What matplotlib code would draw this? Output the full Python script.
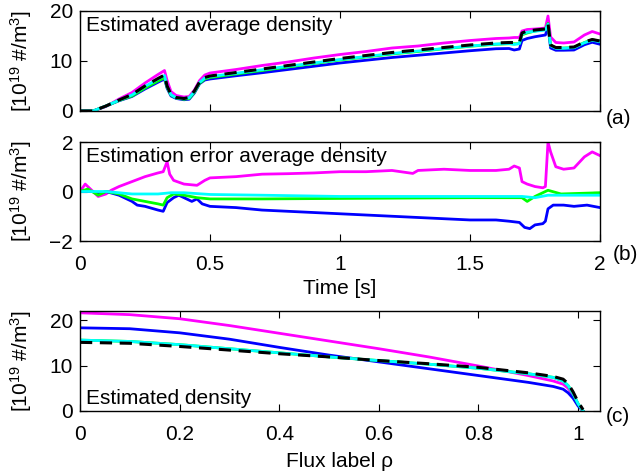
import matplotlib
matplotlib.use("Agg")
import matplotlib.pyplot as plt
import numpy as np

plt.rcParams['font.family'] = ['Liberation Sans', 'DejaVu Sans']
plt.rcParams['mathtext.fontset'] = 'custom'
plt.rcParams['mathtext.rm'] = 'Liberation Sans'
plt.rcParams['mathtext.it'] = 'Liberation Sans:italic'
FS = 15
plt.rcParams['font.size'] = FS

# ---- Panel (a): estimated average density vs time ----
t_a = [0, 0.05, 0.1, 0.15, 0.2, 0.25, 0.3, 0.325, 0.335, 0.35, 0.37, 0.4, 0.42, 0.44,
       0.46, 0.48, 0.5, 0.6, 0.7, 0.8, 0.9, 1.0, 1.1, 1.2, 1.3, 1.4, 1.5, 1.6, 1.65,
       1.67, 1.69, 1.70, 1.72, 1.75, 1.79, 1.80, 1.81, 1.83, 1.86, 1.9, 1.94, 1.97, 2.0]
true_a = [0, 0, 1.0, 2.2, 3.3, 5.0, 6.5, 7.2, 5.0, 3.3, 2.7, 2.5, 2.7, 4.0, 5.8, 6.7,
          7.0, 7.7, 8.4, 9.1, 9.8, 10.5, 11.1, 11.7, 12.2, 12.7, 13.2, 13.6, 13.7, 13.7,
          13.7, 15.6, 16.0, 16.2, 16.4, 17.5, 13.2, 12.7, 12.7, 12.8, 13.8, 14.3, 14.0]
magenta_a = [0, 0, 0.9, 2.4, 3.7, 5.6, 7.3, 8.1, 6.1, 3.9, 3.1, 2.8, 2.9, 4.2, 6.1, 7.2,
             7.6, 8.3, 9.1, 9.8, 10.6, 11.3, 11.9, 12.6, 13.0, 13.6, 14.1, 14.5, 14.6, 14.7,
             14.7, 16.0, 16.3, 16.4, 16.6, 19.0, 14.8, 13.7, 13.6, 13.8, 15.2, 15.9, 15.4]
blue_a = [0, 0, 1.0, 2.05, 2.9, 4.4, 5.75, 6.4, 4.55, 3.0, 2.5, 2.25, 2.35, 3.6, 5.45, 6.2,
          6.4, 7.05, 7.65, 8.3, 8.95, 9.6, 10.15, 10.7, 11.15, 11.6, 12.05, 12.45, 12.5, 12.2,
          12.4, 14.1, 14.5, 14.85, 15.2, 16.8, 12.6, 12.15, 12.15, 12.2, 13.25, 13.75, 13.35]
green_a = [0, 0, 1.0, 2.1, 3.0, 4.6, 6.0, 6.65, 4.75, 3.2, 2.6, 2.35, 2.5, 3.75, 5.55, 6.4,
           6.7, 7.4, 8.1, 8.8, 9.5, 10.2, 10.8, 11.4, 11.9, 12.45, 12.95, 13.35, 13.45, 13.45,
           13.45, 15.25, 15.6, 16.0, 16.35, 17.5, 13.15, 12.6, 12.6, 12.7, 13.7, 14.25, 13.95]
cyan_a = [0, 0, 1.0, 2.15, 3.2, 4.9, 6.4, 7.1, 4.95, 3.25, 2.65, 2.45, 2.65, 3.9, 5.7, 6.6,
          6.9, 7.55, 8.25, 8.95, 9.6, 10.3, 10.9, 11.5, 12.0, 12.5, 13.0, 13.4, 13.5, 13.3,
          13.5, 15.4, 15.75, 15.95, 16.2, 17.35, 13.05, 12.55, 12.55, 12.65, 13.65, 14.15, 13.85]

# ---- Panel (b): estimation error ----
t_m = [0, 0.02, 0.05, 0.07, 0.1, 0.12, 0.15, 0.2, 0.25, 0.3, 0.32, 0.335, 0.345, 0.36,
       0.4, 0.45, 0.48, 0.5, 0.6, 0.7, 0.8, 0.9, 1.0, 1.1, 1.2, 1.28, 1.3, 1.4, 1.5, 1.6,
       1.65, 1.67, 1.69, 1.70, 1.72, 1.75, 1.78, 1.79, 1.80, 1.81, 1.83, 1.86, 1.9, 1.94,
       1.97, 1.99, 2.0]
err_m = [0, 0.3, 0.0, -0.2, -0.1, 0.05, 0.2, 0.4, 0.6, 0.75, 0.8, 1.2, 0.7, 0.45,
         0.3, 0.25, 0.45, 0.55, 0.6, 0.7, 0.72, 0.75, 0.8, 0.8, 0.85, 0.73, 0.85, 0.9, 0.85,
         0.85, 0.9, 1.03, 0.95, 0.4, 0.3, 0.2, 0.15, 0.2, 2.0, 1.6, 1.0, 0.9, 0.95, 1.4,
         1.6, 1.5, 1.45]
t_bl = [0, 0.05, 0.07, 0.1, 0.15, 0.2, 0.22, 0.25, 0.3, 0.32, 0.335, 0.36, 0.38, 0.4,
        0.43, 0.45, 0.47, 0.5, 0.6, 0.7, 0.8, 0.9, 1.0, 1.1, 1.2, 1.3, 1.4, 1.5, 1.6,
        1.65, 1.69, 1.71, 1.73, 1.75, 1.78, 1.79, 1.80, 1.82, 1.86, 1.9, 1.95, 2.0]
err_bl = [0, 0, -0.1, 0, -0.15, -0.4, -0.55, -0.6, -0.75, -0.8, -0.45, -0.25, -0.15,
          -0.25, -0.4, -0.3, -0.5, -0.6, -0.65, -0.75, -0.8, -0.85, -0.9, -0.95, -1.0,
          -1.05, -1.1, -1.15, -1.15, -1.2, -1.25, -1.45, -1.5, -1.35, -1.3, -1.2, -0.7,
          -0.55, -0.55, -0.6, -0.55, -0.65]
t_g = [0, 0.03, 0.07, 0.1, 0.15, 0.2, 0.25, 0.3, 0.32, 0.335, 0.36, 0.4, 0.45, 0.5,
       0.7, 1.0, 1.5, 1.7, 1.72, 1.75, 1.8, 1.85, 2.0]
err_g = [0, 0.1, -0.15, 0, -0.1, -0.3, -0.4, -0.5, -0.55, -0.25, -0.1, -0.15, -0.25,
         -0.3, -0.3, -0.28, -0.25, -0.25, -0.4, -0.2, 0.05, -0.1, -0.05]
t_c = [0, 0.1, 0.2, 0.3, 0.35, 0.4, 0.5, 0.7, 1.0, 1.5, 1.7, 1.75, 1.8, 2.0]
err_c = [0, 0, -0.1, -0.1, -0.05, -0.05, -0.12, -0.15, -0.2, -0.2, -0.2, -0.25,
         -0.15, -0.15]

# ---- Panel (c): estimated density profile ----
rho = [0, 0.1, 0.2, 0.3, 0.4, 0.5, 0.6, 0.7, 0.8, 0.9, 0.95, 0.97, 0.98, 0.99, 1.0, 1.01]
true_c = [15.1, 14.9, 14.2, 13.4, 12.6, 11.9, 11.1, 10.4, 9.6, 8.4, 7.6, 7.0, 6.0, 4.2, 2.0, 0.3]
magenta_c = [21.6, 21.2, 20.3, 18.8, 17.1, 15.4, 13.7, 11.9, 9.9, 7.8, 6.6, 5.9, 5.0, 3.5, 1.5, 0.0]
blue_c = [18.3, 18.1, 17.2, 15.8, 14.0, 12.3, 10.8, 9.3, 7.8, 6.3, 5.4, 4.8, 4.0, 2.8, 1.1, 0.0]
green_c = [15.6, 15.3, 14.6, 13.7, 12.8, 11.9, 11.1, 10.3, 9.4, 8.2, 7.4, 6.6, 5.6, 3.8, 1.6, 0.0]
cyan_c = [15.6, 15.3, 14.6, 13.7, 12.8, 11.9, 11.1, 10.3, 9.4, 8.2, 7.4, 6.6, 5.6, 3.8, 1.6, 0.0]

MAG, BLU, GRN, CYN = '#FF00FF', '#0000FF', '#00FF00', '#00FFFF'
ylab = r'[10$^{19}$ #/m$^3$]'

fig = plt.figure(figsize=(6.44, 4.76), dpi=100)
W, H = 644, 476
def add_ax(left, top, right, bottom):
    return fig.add_axes([left / W, 1 - bottom / H, (right - left) / W, (bottom - top) / H])

L, R = 80, 600
ax1 = add_ax(L, 11, R, 111)
ax2 = add_ax(L, 142, R, 241)
ax3 = add_ax(L, 311, R, 411)

def style(ax):
    ax.tick_params(direction='in', top=True, right=True, length=5, width=0.8, labelsize=FS, pad=5)
    ax.tick_params(axis='x', pad=10)
    for s in ax.spines.values():
        s.set_linewidth(1.0)
    ax.set_ylabel(ylab, fontsize=FS)
    ax.yaxis.set_label_coords(-0.088, 0.5)

lw = 2.0
ax1.plot(t_a, magenta_a, color=MAG, lw=lw)
ax1.plot(t_a, blue_a, color=BLU, lw=lw)
ax1.plot(t_a, green_a, color=GRN, lw=lw)
ax1.plot(t_a, cyan_a, color=CYN, lw=lw)
ax1.plot(t_a, true_a, color='black', lw=2.2, ls=(0, (4, 2.5)))
ax1.set_xlim(0, 2)
ax1.set_ylim(0, 20)
ax1.set_yticks([0, 10, 20])
ax1.set_xticks([0, 0.5, 1, 1.5, 2])
ax1.set_xticklabels([])
ax1.text(0.012, 0.95, 'Estimated average density', transform=ax1.transAxes, va='top', ha='left', fontsize=FS)
ax1.text(1.012, -0.07, '(a)', transform=ax1.transAxes, va='center', ha='left', fontsize=FS)
style(ax1)

ax2.plot(t_m, err_m, color=MAG, lw=lw)
ax2.plot(t_bl, err_bl, color=BLU, lw=lw)
ax2.plot(t_g, err_g, color=GRN, lw=lw)
ax2.plot(t_c, err_c, color=CYN, lw=lw)
ax2.set_xlim(0, 2)
ax2.set_ylim(-2, 2)
ax2.set_yticks([-2, 0, 2])
ax2.set_xticks([0, 0.5, 1, 1.5, 2])
ax2.set_xticklabels(['0', '0.5', '1', '1.5', '2'])
ax2.set_xlabel('Time [s]', fontsize=FS, labelpad=4)
ax2.text(0.012, 0.95, 'Estimation error average density', transform=ax2.transAxes, va='top', ha='left', fontsize=FS)
ax2.text(1.024, -0.14, '(b)', transform=ax2.transAxes, va='center', ha='left', fontsize=FS)
style(ax2)

ax3.plot(rho, magenta_c, color=MAG, lw=lw)
ax3.plot(rho, blue_c, color=BLU, lw=lw)
ax3.plot(rho, green_c, color=GRN, lw=lw)
ax3.plot(rho, cyan_c, color=CYN, lw=lw)
ax3.plot(rho, true_c, color='black', lw=2.2, ls=(0, (4, 2.5)))
ax3.set_xlim(0, 1.044)
ax3.set_ylim(0, 22)
ax3.set_yticks([0, 10, 20])
ax3.set_xticks([0, 0.2, 0.4, 0.6, 0.8, 1])
ax3.set_xticklabels(['0', '0.2', '0.4', '0.6', '0.8', '1'])
ax3.set_xlabel('Flux label ρ', fontsize=FS, labelpad=6)
ax3.text(0.012, 0.03, 'Estimated density', transform=ax3.transAxes, va='bottom', ha='left', fontsize=FS)
ax3.text(1.012, -0.06, '(c)', transform=ax3.transAxes, va='center', ha='left', fontsize=FS)
style(ax3)

fig.savefig('out.png', dpi=100)
